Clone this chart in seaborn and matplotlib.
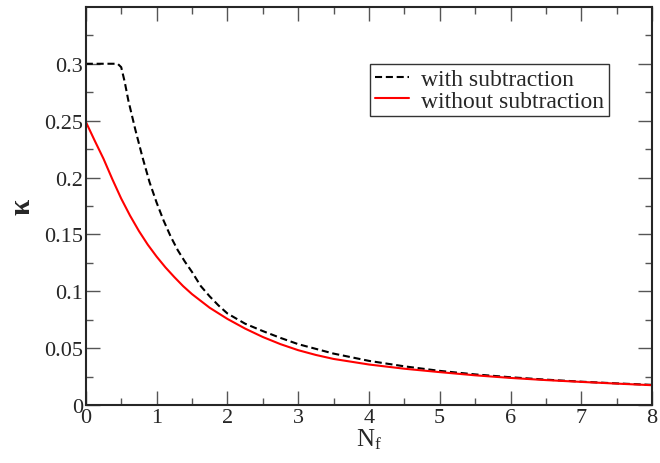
import pandas as pd
import matplotlib
matplotlib.use('Agg')
import matplotlib.pyplot as plt
import seaborn as sns

# values
nf_with = [0.0, 0.25, 0.45, 0.5, 0.55, 0.6, 0.7, 0.8, 0.9, 1.0, 1.1, 1.2, 1.3, 1.4, 1.5,
           1.625, 1.75, 1.875, 2.0, 2.25, 2.5, 2.75, 3.0, 3.5, 4.0, 4.5, 5.0, 5.5, 6.0,
           6.5, 7.0, 7.5, 8.0]
kappa_with = [0.3, 0.3, 0.3, 0.297, 0.284, 0.268, 0.242, 0.218, 0.196, 0.178, 0.162, 0.148,
              0.136, 0.126, 0.117, 0.1045, 0.0955, 0.0875, 0.0805, 0.0715, 0.065, 0.059,
              0.0535, 0.0452, 0.0388, 0.034, 0.0300, 0.0269, 0.0244, 0.0223, 0.0205,
              0.019, 0.0177]

nf_without = [0.0, 0.125, 0.25, 0.375, 0.5, 0.625, 0.75, 0.875, 1.0, 1.125, 1.25, 1.375,
              1.5, 1.75, 2.0, 2.25, 2.5, 2.75, 3.0, 3.25, 3.5, 4.0, 4.5, 5.0, 5.5, 6.0,
              6.5, 7.0, 7.5, 8.0]
kappa_without = [0.249, 0.2325, 0.2165, 0.1985, 0.1815, 0.1665, 0.153, 0.141, 0.1305,
                 0.121, 0.1125, 0.1045, 0.0975, 0.0855, 0.0757, 0.0672, 0.0598, 0.0535,
                 0.0482, 0.0440, 0.0405, 0.0356, 0.0319, 0.0289, 0.0261, 0.0238, 0.0219,
                 0.0203, 0.0188, 0.0174]

x_ticks = [0, 1, 2, 3, 4, 5, 6, 7, 8]
y_ticks = [0, 0.05, 0.1, 0.15, 0.2, 0.25, 0.3]
y_tick_labels = ['0', '0.05', '0.1', '0.15', '0.2', '0.25', '0.3']

sns.set_style('ticks')
plt.rcParams['font.family'] = ['Liberation Serif', 'DejaVu Serif']
plt.rcParams['mathtext.fontset'] = 'stix'

fig = plt.figure(figsize=(6.6, 4.64), dpi=100)
ax = fig.add_axes([0.130, 0.125, 0.858, 0.858])

df_with = pd.DataFrame({'nf': nf_with, 'kappa': kappa_with})
df_without = pd.DataFrame({'nf': nf_without, 'kappa': kappa_without})

sns.lineplot(data=df_with, x='nf', y='kappa', ax=ax, color='black', lw=1.5,
             linestyle=(0, (3.4, 1.8)), label='with subtraction')
sns.lineplot(data=df_without, x='nf', y='kappa', ax=ax, color='red', lw=1.5,
             label='without subtraction')

ax.set_xlim(0, 8)
ax.set_ylim(0, 0.35)
ax.set_xticks(x_ticks)
ax.set_xticklabels([str(i) for i in x_ticks])
ax.set_xticks([i + 0.5 for i in x_ticks[:-1]], minor=True)
ax.set_yticks(y_ticks)
ax.set_yticklabels(y_tick_labels)
ax.set_yticks([0.025, 0.075, 0.125, 0.175, 0.225, 0.275, 0.325], minor=True)

ax.tick_params(which='both', direction='in', top=True, right=True, labelsize=16,
               width=1, color='#555555')
ax.tick_params(which='major', length=10, pad=2)
ax.tick_params(which='minor', length=5)
for s in ax.spines.values():
    s.set_linewidth(1.5)

ax.set_xlabel(r'$\mathregular{N_f}$', fontsize=18, labelpad=0)
ax.set_ylabel('κ', fontsize=21, fontweight='bold', labelpad=6)

leg = ax.legend(loc='upper left', bbox_to_anchor=(0.502, 0.857), borderaxespad=0,
                fontsize=17, frameon=True, fancybox=False, handlelength=1.45,
                handletextpad=0.5, borderpad=0.2, labelspacing=0.0)
leg.get_frame().set_edgecolor('black')
leg.get_frame().set_linewidth(1)

fig.savefig('out.png', dpi=100)
